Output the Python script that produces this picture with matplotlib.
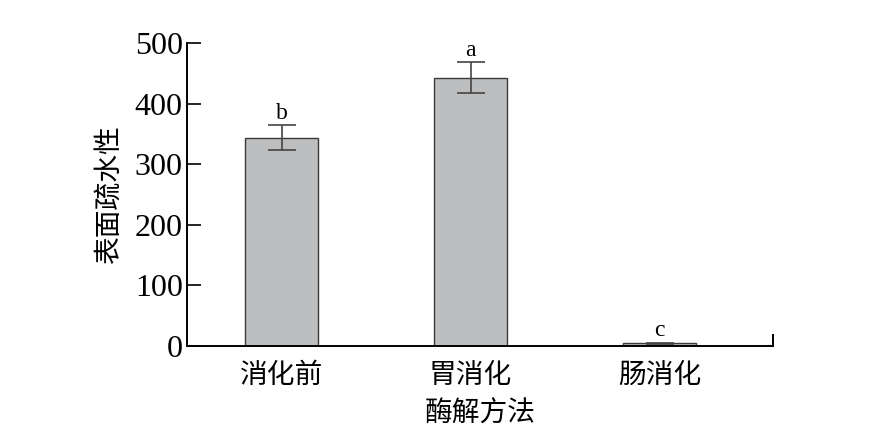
import numpy as np
import matplotlib.pyplot as plt

categories = ["消化前", "胃消化", "肠消化"]
values = [344, 443, 4.5]
errors = [20, 26, 1.2]
letters = ["b", "a", "c"]

plt.rcParams['font.family'] = ['Liberation Serif', 'Noto Sans CJK SC']
cjk = ['Noto Sans CJK SC', 'DejaVu Sans']

fig = plt.figure(figsize=(8.75, 4.46), dpi=100)
ax = fig.add_axes([0.2137, 0.2242, 0.6697, 0.6794])

x = np.arange(len(categories))
ax.bar(x, values, width=0.39, color='#bcbec0', edgecolor='#3a3a3a', linewidth=1.0,
       yerr=errors, error_kw=dict(ecolor='#444444', elinewidth=1.2, capsize=10, capthick=1.2))

for xi, v, e, lab in zip(x, values, errors, letters):
    ax.text(xi, v + e + 2, lab, ha='center', va='bottom', fontsize=17)

ax.set_xlim(-0.5, 2.6)
ax.set_ylim(0, 500)
ax.set_yticks([0, 100, 200, 300, 400, 500])
ax.tick_params(axis='y', direction='in', length=10, width=1.2, labelsize=23, pad=3)
ax.set_xticks(x)
ax.set_xticklabels(categories, fontfamily=cjk, fontsize=20)
ax.tick_params(axis='x', length=0, pad=10)

ax.spines['top'].set_visible(False)
ax.spines['right'].set_bounds(0, 18)
for s in ['left', 'bottom', 'right']:
    ax.spines[s].set_linewidth(1.4)

ax.set_ylabel("表面疏水性", fontfamily=cjk, fontsize=20, labelpad=8)
ax.set_xlabel("酶解方法", fontfamily=cjk, fontsize=20, labelpad=6)

fig.savefig("out.png", dpi=100)
